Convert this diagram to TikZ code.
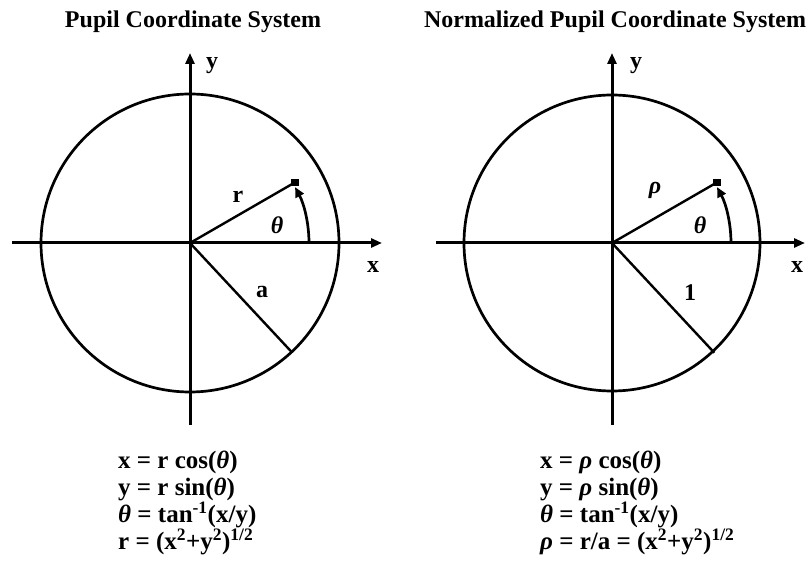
\documentclass[tikz,border=0pt]{standalone}
\usepackage{fontspec}
\setmainfont{Liberation Serif}
\usetikzlibrary{arrows.meta,positioning}

\newcommand{\thv}{\textit{θ}}
\newcommand{\rhov}{\textit{ρ}}

\begin{document}
\begin{tikzpicture}[
    x=1pt,y=1pt,
    axis/.style={line width=3pt,-{Triangle[length=11pt,width=9pt]}},
    rim/.style={line width=2.7pt},
    ray/.style={line width=2.4pt},
    ang/.style={line width=2.7pt,-{Triangle[length=10pt,width=9pt]}},
    dot/.style={rectangle,fill=black,minimum size=7.5pt,inner sep=0pt},
    lbl/.style={font=\fontsize{24}{27}\selectfont\bfseries,inner sep=0pt},
    title/.style={font=\fontsize{24}{27}\selectfont\bfseries,inner sep=0pt},
    eqn/.style={font=\fontsize{25}{27}\selectfont\bfseries,align=left,
                inner sep=0pt,anchor=north west}
  ]
    \useasboundingbox (0,0) rectangle (812,-572);

    % Pupil coordinates
    \node[title] (ttl1) at (193,-22) {Pupil Coordinate System};
    \coordinate (O1) at (190,-243);
    \coordinate (xa1) at (12,-243);
    \coordinate (xb1) at (382,-243);
    \coordinate (ya1) at (190,-425);
    \coordinate (yb1) at (190,-53);
    \coordinate (P1) at ([shift={(30:121)}]O1);
    \coordinate (A1) at ([shift={(-47:150)}]O1);
    \coordinate (T1) at ([shift={(0:119)}]O1);

    \draw[rim] (O1) circle[radius=149];
    \draw[axis] (xa1) -- (xb1);
    \draw[axis] (ya1) -- (yb1);
    \draw[ray] (O1) -- (P1);
    \draw[ray] (O1) -- (A1);
    \draw[ang] (T1) arc[start angle=0,end angle=28,radius=119];
    \node[dot] (pt1) at (P1) {};

    \node[lbl] (r1) at (238,-197) {r};
    \node[lbl] (th1) at (277,-225) {\thv};
    \node[lbl] (a1) at (262,-292) {a};
    \node[lbl] (x1) at (373,-267) {x};
    \node[lbl] (y1) at (212,-66) {y};

    \node[eqn] (eq1) at (118,-451)
      {x = r cos(\thv)\\
       y = r sin(\thv)\\
       \thv{} = tan\textsuperscript{-1}(x/y)\\
       r = (x\textsuperscript{2}+y\textsuperscript{2})\textsuperscript{1/2}};

    % Normalized pupil coordinates
    \node[title] (ttl2) at (615,-22) {Normalized Pupil Coordinate System};
    \coordinate (O2) at (612,-243);
    \coordinate (xa2) at (436,-243);
    \coordinate (xb2) at (805,-243);
    \coordinate (ya2) at (612,-425);
    \coordinate (yb2) at (612,-53);
    \coordinate (P2) at ([shift={(30:121)}]O2);
    \coordinate (A2) at ([shift={(-47:150)}]O2);
    \coordinate (T2) at ([shift={(0:119)}]O2);

    \draw[rim] (O2) circle[radius=148];
    \draw[axis] (xa2) -- (xb2);
    \draw[axis] (ya2) -- (yb2);
    \draw[ray] (O2) -- (P2);
    \draw[ray] (O2) -- (A2);
    \draw[ang] (T2) arc[start angle=0,end angle=28,radius=119];
    \node[dot] (pt2) at (P2) {};

    \node[lbl] (r2) at (655,-190) {\rhov};
    \node[lbl] (th2) at (700,-225) {\thv};
    \node[lbl] (a2) at (690,-293) {1};
    \node[lbl] (x2) at (797,-267) {x};
    \node[lbl] (y2) at (636,-66) {y};

    \node[eqn] (eq2) at (540,-451)
      {x = \rhov{} cos(\thv)\\
       y = \rhov{} sin(\thv)\\
       \thv{} = tan\textsuperscript{-1}(x/y)\\
       \rhov{} = r/a = (x\textsuperscript{2}+y\textsuperscript{2})\textsuperscript{1/2}};
  \end{tikzpicture}
\end{document}
